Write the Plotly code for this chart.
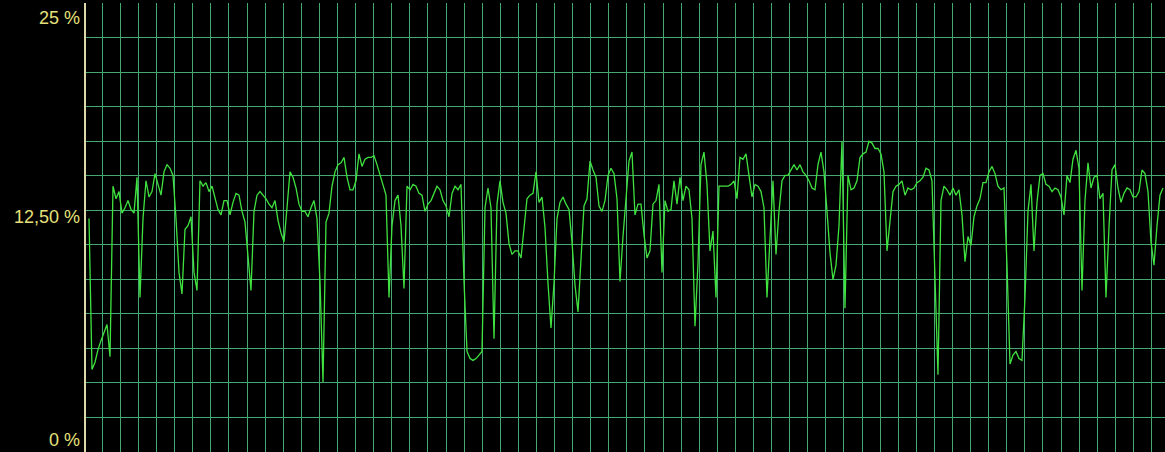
import plotly.graph_objects as go

# CPU usage (%), one sample per step
cpu_seg1 = [13.0, 4.6, 5.0, 5.7, 6.2, 6.7, 7.1, 5.3, 14.8, 14.1,
            14.5, 13.3, 13.6, 14.0, 13.5, 13.3, 15.3, 8.6, 13.0, 15.1,
            14.2, 14.5, 15.5, 14.9, 14.3, 15.6, 16.0, 15.8, 15.4, 13.0,
            10.0, 8.8, 12.4, 12.6, 13.1, 10.0, 9.0, 15.1, 14.8, 15.0,
            14.5, 14.8, 14.1, 13.5, 13.2, 14.0, 14.0, 13.2, 13.9, 14.4,
            14.3, 13.4, 12.8, 10.8, 9.0, 13.4, 14.3, 14.5, 14.3, 14.1,
            13.8, 13.6, 14.0, 12.9, 12.2, 11.7, 13.6, 15.6, 15.3, 14.7,
            13.8, 13.4]
cpu_seg2 = [13.4, 13.1, 13.6, 14.0, 13.0, 9.5, 3.9, 12.8, 13.3, 14.8,
            15.6, 16.0, 16.1, 16.4, 15.3, 14.6, 14.6, 15.1, 16.6, 15.9,
            16.3, 16.4, 16.4, 16.5, 16.0, 15.4, 14.9, 14.3, 8.6, 12.6,
            14.0, 14.3, 12.6, 9.1, 14.8, 14.6, 14.9, 14.8, 14.4, 14.3,
            13.4, 13.8, 14.0, 14.4, 14.8, 14.6, 14.0, 13.7, 13.1, 14.4,
            14.8, 14.6, 14.9, 9.5, 5.6, 5.2, 5.1, 5.2, 5.4, 5.6,
            13.6, 14.7, 13.6, 6.3, 13.8, 15.1, 13.9, 13.3, 11.6, 11.0,
            11.2, 11.2]
cpu_seg3 = [10.8, 12.3, 14.1, 14.3, 14.4, 15.6, 13.9, 14.2, 12.5, 9.4,
            6.9, 9.4, 13.0, 13.9, 14.2, 13.8, 13.5, 11.7, 9.3, 7.8,
            10.8, 13.7, 14.1, 16.2, 15.7, 15.3, 13.7, 13.4, 14.0, 15.4,
            15.8, 15.5, 14.1, 9.5, 12.0, 14.1, 16.2, 16.7, 13.2, 13.8,
            13.8, 12.1, 10.8, 11.2, 13.8, 14.0, 14.9, 10.0, 14.0, 13.4,
            13.5, 15.1, 13.8, 15.3, 14.0, 14.8, 14.6, 13.0, 7.0, 10.5,
            16.0, 16.7, 14.9, 11.2, 12.3, 8.6, 14.8, 14.8, 14.8, 14.8,
            14.9, 15.1]
cpu_seg4 = [14.1, 16.4, 16.3, 16.6, 15.4, 14.2, 14.9, 14.8, 14.5, 13.6,
            8.6, 12.0, 15.1, 11.0, 13.4, 15.1, 15.4, 15.4, 15.7, 16.0,
            15.7, 16.0, 15.6, 15.4, 15.1, 14.7, 14.6, 16.0, 16.7, 15.6,
            13.4, 11.1, 9.6, 10.4, 12.6, 17.3, 8.0, 15.4, 14.6, 14.7,
            15.1, 16.4, 16.6, 16.7, 17.3, 17.2, 16.9, 16.9, 16.6, 15.6,
            11.2, 12.8, 14.5, 14.8, 14.9, 15.1, 14.3, 14.7, 14.6, 14.7,
            15.0, 15.1, 15.3, 15.8, 15.7, 15.1, 9.0, 4.3, 14.0, 14.8,
            14.6]
cpu_seg5 = [14.3, 14.7, 14.3, 14.6, 13.2, 10.6, 12.0, 11.5, 13.1, 13.7,
            14.1, 15.0, 15.0, 15.6, 15.9, 15.5, 14.8, 14.6, 14.7, 10.4,
            4.9, 5.4, 5.6, 5.2, 5.1, 8.6, 13.4, 14.9, 11.2, 13.9,
            15.4, 15.5, 14.9, 14.8, 14.5, 14.7, 14.6, 14.2, 13.2, 15.4,
            15.0, 16.3, 16.8, 15.8, 9.0, 14.0, 16.1, 14.7, 15.3, 15.4,
            14.1, 14.4, 8.6, 12.5, 15.7, 16.0, 14.7, 13.9, 14.4, 14.7,
            14.6, 14.2, 14.2, 14.5, 15.7, 15.5, 14.5, 11.7, 10.4, 12.6,
            14.3, 14.7]

cpu = cpu_seg1 + cpu_seg2 + cpu_seg3 + cpu_seg4 + cpu_seg5
samples = list(range(len(cpu)))

y_tick_values = [25, 12.5, 0]
y_tick_labels = ["25 %", "12,50 %", "0 %"]

grid_color = "#45a86e"
label_color = "#e6e07a"

fig = go.Figure(go.Scatter(
    x=samples, y=cpu, mode="lines",
    line=dict(color="#3fe23f", width=1.3),
    hoverinfo="skip",
))

anchors = {25: ("top", -3), 12.5: ("middle", 11), 0: ("bottom", 0)}
annotations = []
for v, txt in zip(y_tick_values, y_tick_labels):
    ya, ys = anchors[v]
    annotations.append(dict(
        x=0, xref="paper", y=v, yref="y", text=txt, showarrow=False,
        xanchor="right", yanchor=ya, xshift=-4, yshift=ys,
        font=dict(family="Liberation Sans, Arial, sans-serif", size=18, color=label_color),
    ))

fig.update_layout(
    width=1165, height=452,
    margin=dict(l=86, r=0, t=3, b=0),
    paper_bgcolor="black", plot_bgcolor="black",
    showlegend=False,
    annotations=annotations,
    xaxis=dict(range=[-1, 358.67], showgrid=True, gridcolor=grid_color, gridwidth=1,
               tick0=4.43, dtick=6.03, showticklabels=False, ticks="", zeroline=False,
               showline=False, fixedrange=True),
    yaxis=dict(range=[0, 25], showgrid=True, gridcolor=grid_color, gridwidth=1,
               tick0=0, dtick=25 / 13, showticklabels=False, ticks="", zeroline=False,
               showline=True, linecolor="#dcd8a8", linewidth=1.5, fixedrange=True),
)

fig.write_html(
    "out.html",
    config={"displayModeBar": False},
    post_script="document.body.style.margin='0';document.body.style.overflow='hidden';document.body.style.background='black';",
)
